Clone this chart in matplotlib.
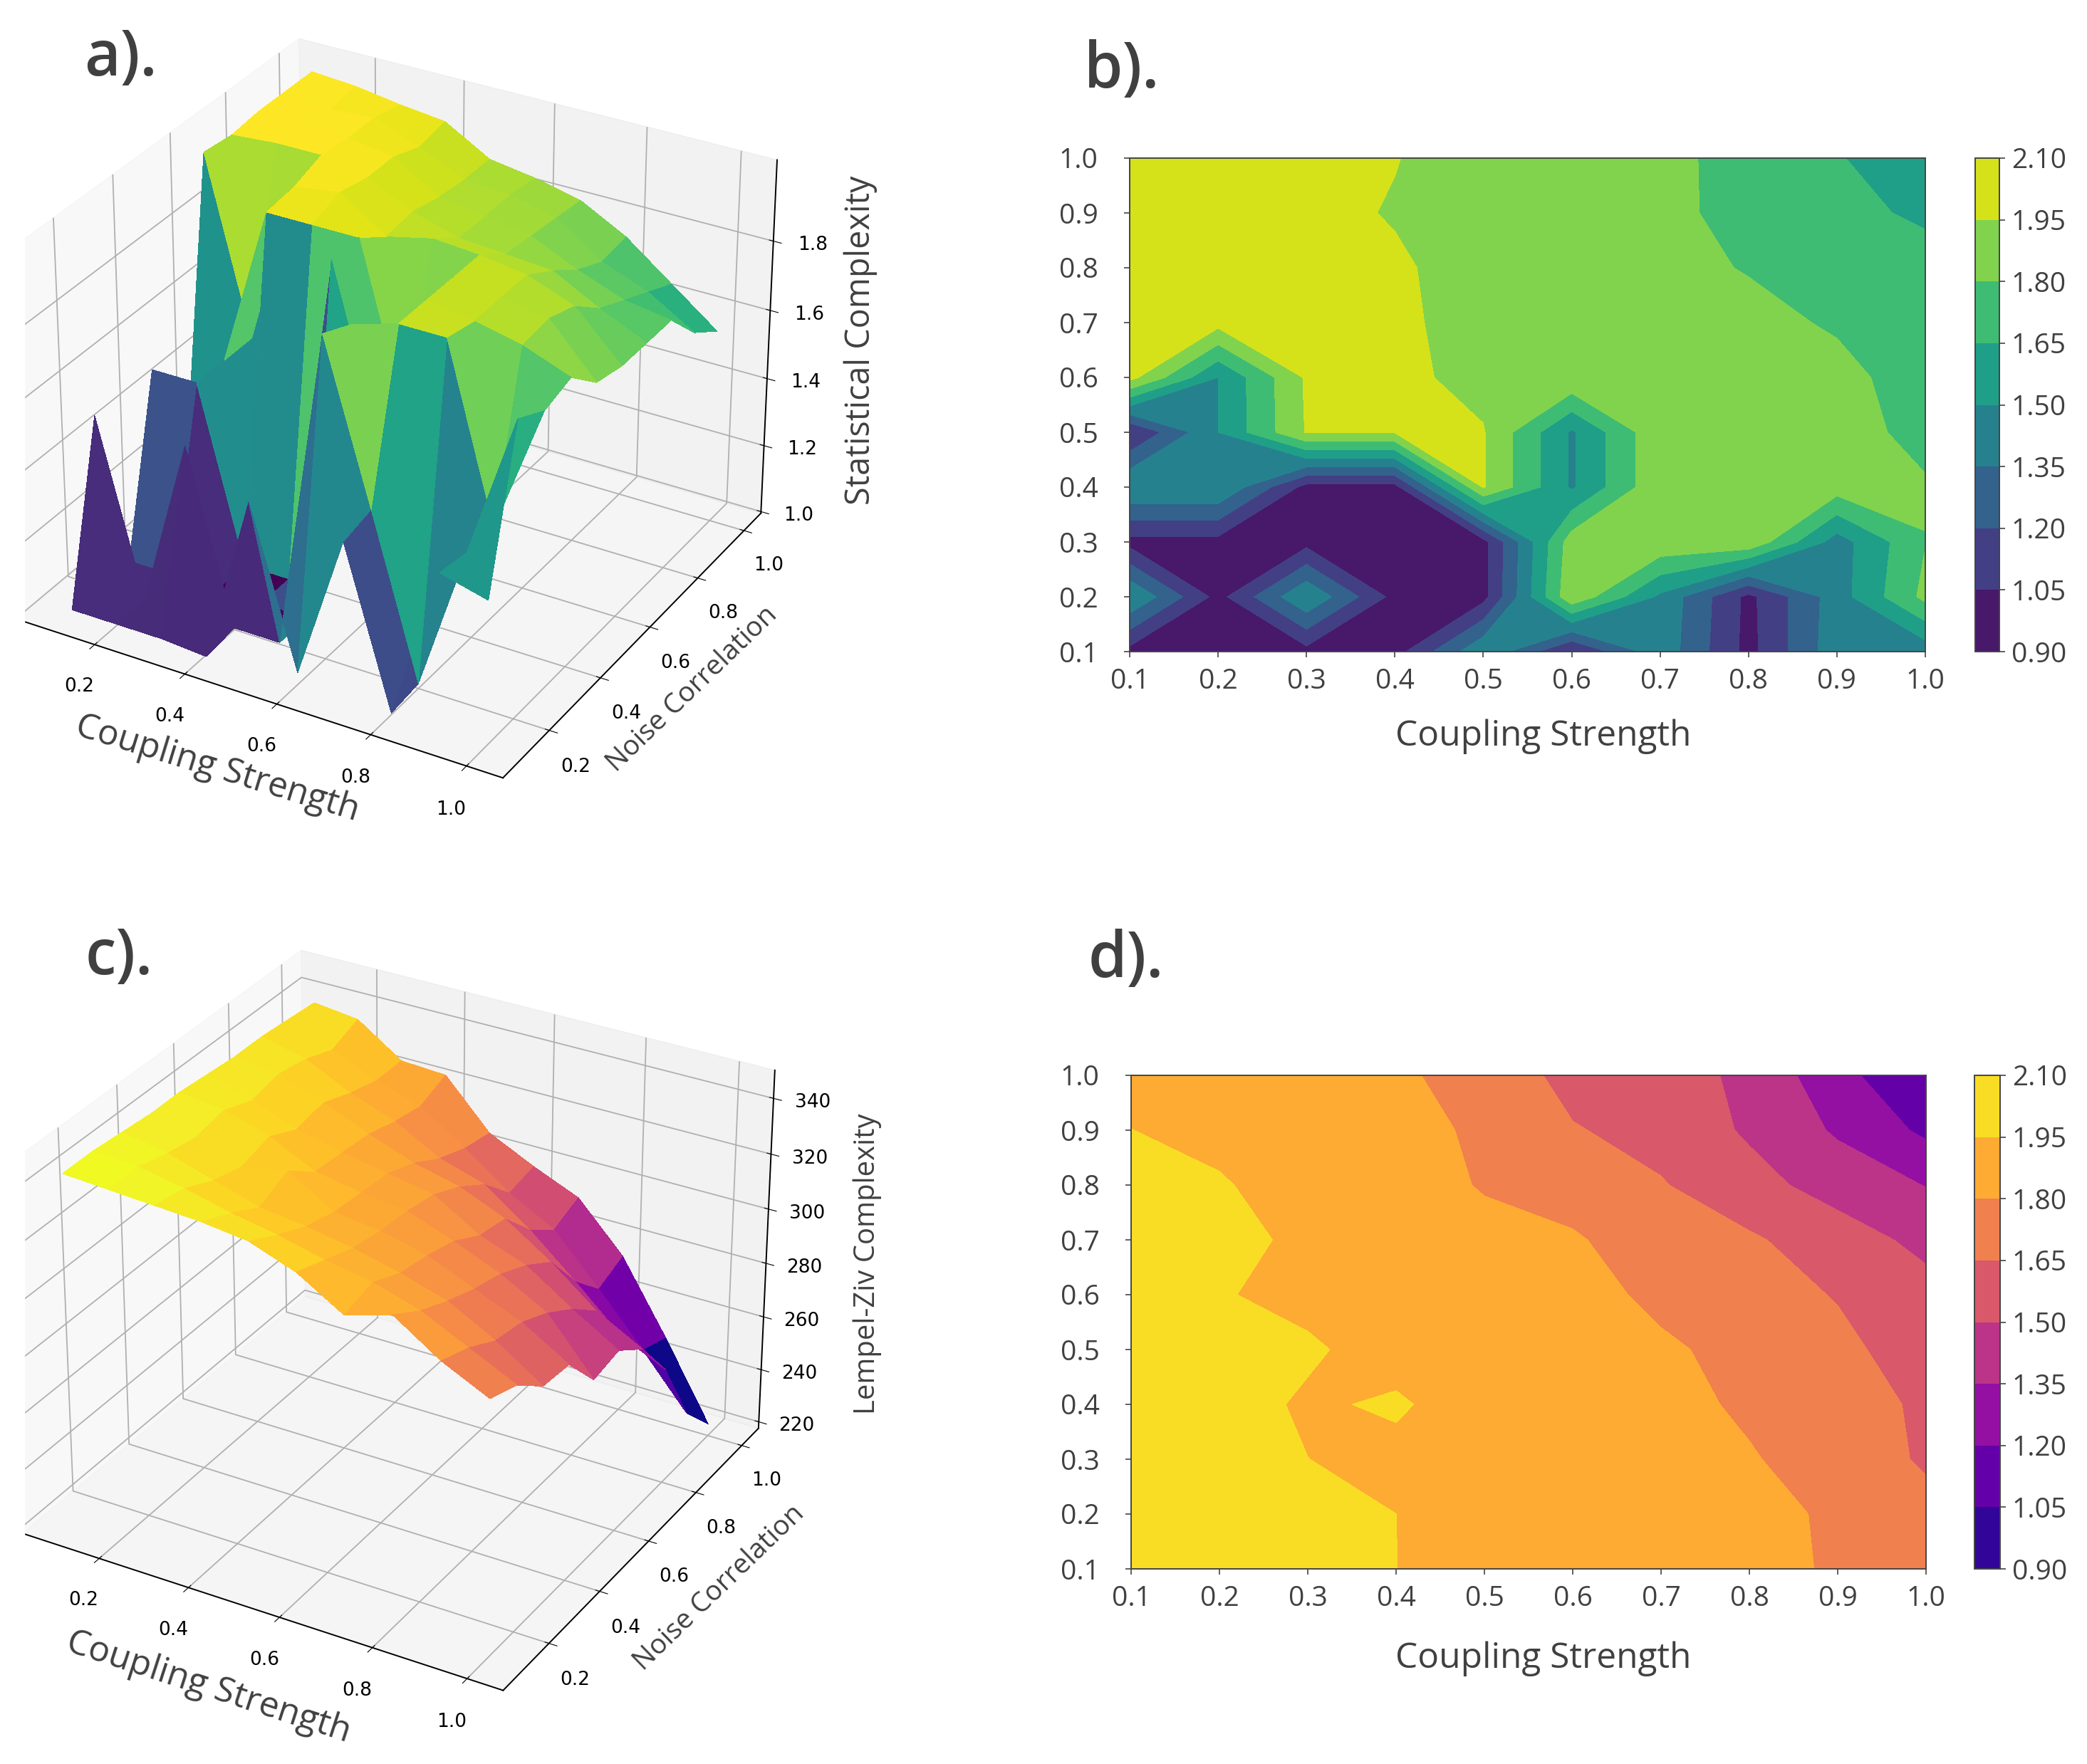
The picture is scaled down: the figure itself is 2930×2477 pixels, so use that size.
import numpy as np
import matplotlib
matplotlib.use("Agg")
import matplotlib.pyplot as plt
from matplotlib.patches import Rectangle

W, H = 2930, 2477

plt.rcParams["font.family"] = ["Open Sans", "DejaVu Sans"]
plt.rcParams["axes.linewidth"] = 1.4
plt.rcParams["grid.linewidth"] = 1.3

TEXT = "#404040"
SPINE = "#444444"

coupling = [0.1, 0.2, 0.3, 0.4, 0.5, 0.6, 0.7, 0.8, 0.9, 1.0]
noise = [0.1, 0.2, 0.3, 0.4, 0.5, 0.6, 0.7, 0.8, 0.9, 1.0]

# rows go from noise 0.1 up to noise 1.0
statistical = [
    [1.00, 1.00, 1.00, 0.99, 1.48, 1.03, 1.45, 1.00, 1.445, 1.41],
    [1.50, 1.00, 1.49, 1.00, 1.00, 1.92, 1.47, 1.01, 1.43, 1.84],
    [1.00, 1.00, 1.00, 1.00, 1.00, 1.88, 1.92, 1.92, 1.43, 1.795],
    [1.50, 1.50, 1.00, 1.00, 1.96, 1.48, 1.92, 1.90, 1.87, 1.82],
    [1.04, 1.50, 1.96, 1.96, 1.96, 1.48, 1.92, 1.90, 1.88, 1.74],
    [2.00, 1.50, 1.97, 1.99, 1.90, 1.93, 1.92, 1.90, 1.85, 1.72],
    [1.99, 2.00, 2.00, 1.97, 1.91, 1.87, 1.86, 1.85, 1.78, 1.72],
    [2.00, 2.00, 1.99, 1.97, 1.89, 1.87, 1.85, 1.79, 1.74, 1.72],
    [2.00, 1.98, 1.99, 1.94, 1.88, 1.87, 1.84, 1.75, 1.70, 1.62],
    [2.00, 1.99, 1.97, 1.955, 1.88, 1.86, 1.83, 1.76, 1.66, 1.56],
]

lempel_ziv = [
    [345, 344, 343, 342, 340, 334, 324, 329, 318, 310],
    [345, 344, 341, 337, 334, 330, 327, 322, 314, 306],
    [344, 341, 336, 331, 329, 326, 322, 317, 308, 297],
    [343, 339, 333, 336, 326, 324, 320, 313, 306, 296],
    [343, 341, 336, 328, 325, 323, 317, 310, 301, 282],
    [342, 337, 331, 327, 324, 321, 311, 305, 294, 284],
    [341, 339, 333, 326, 320, 316, 309, 298, 285, 276],
    [341, 337, 329, 323, 314, 309, 297, 283, 268, 260],
    [340, 333, 326, 321, 310, 298, 289, 272, 254, 235],
    [339, 337, 326, 325, 308, 300, 293, 276, 250, 222],
]

lempel_ziv_norm = [
    [2.02, 2.02, 2.00, 1.9502, 1.93, 1.91, 1.89, 1.83, 1.789, 1.72],
    [2.02, 2.02, 1.99, 1.9502, 1.92, 1.90, 1.88, 1.84, 1.78, 1.70],
    [2.00, 1.99, 1.951, 1.91, 1.90, 1.88, 1.85, 1.81, 1.74, 1.63],
    [2.00, 2.01, 1.93, 1.97, 1.87, 1.87, 1.84, 1.78, 1.73, 1.62],
    [2.02, 2.01, 1.97, 1.89, 1.88, 1.87, 1.82, 1.76, 1.69, 1.57],
    [2.00, 1.96, 1.91, 1.89, 1.87, 1.85, 1.77, 1.72, 1.64, 1.55],
    [1.99, 1.98, 1.93, 1.88, 1.84, 1.81, 1.75, 1.67, 1.57, 1.46],
    [1.97, 1.96, 1.90, 1.86, 1.79, 1.76, 1.66, 1.55, 1.44, 1.345],
    [1.951, 1.92, 1.88, 1.84, 1.78, 1.66, 1.60, 1.48, 1.33, 1.17],
    [1.92, 1.90, 1.86, 1.82, 1.75, 1.60, 1.56, 1.47, 1.246, 1.07],
]

levels = [0.90, 1.05, 1.20, 1.35, 1.50, 1.65, 1.80, 1.95, 2.10]
ticks_3d = [0.2, 0.4, 0.6, 0.8, 1.0]
ticks_sc = [1.0, 1.2, 1.4, 1.6, 1.8]
ticks_lz = [220, 240, 260, 280, 300, 320, 340]


def rect(left, top, right, bottom):
    """Pixel box (y from the top of the picture) to figure coordinates."""
    return [left / W, 1 - bottom / H, (right - left) / W, (bottom - top) / H]


def label(x, y, s, size, **kw):
    kw.setdefault("ha", "center")
    kw.setdefault("va", "center")
    fig.text(x / W, 1 - y / H, s, fontsize=size, color=TEXT, **kw)


def surface(box, values, cmap, zlim, zticks, aspect_z):
    ax = fig.add_axes(rect(*box), projection="3d")
    xx, yy = np.meshgrid(coupling, noise)
    ax.plot_surface(xx, yy, np.array(values, float), cmap=cmap, linewidth=0,
                    antialiased=False)
    ax.view_init(elev=30, azim=-60)
    ax.set_box_aspect((4, 4, aspect_z))
    ax.set_xlim(0.025, 1.075, view_margin=0)
    ax.set_ylim(0.025, 1.075, view_margin=0)
    ax.set_zlim(*zlim, view_margin=0)
    ax.set_xticks(ticks_3d)
    ax.set_yticks(ticks_3d)
    ax.set_zticks(zticks)
    ax.tick_params(labelsize=19, pad=16)
    for t in ax.get_xticklabels() + ax.get_yticklabels() + ax.get_zticklabels():
        t.set_family("DejaVu Sans")
    ax.patch.set_alpha(0)
    return ax


def contour(box, cbox, values, cmap):
    ax = fig.add_axes(rect(*box))
    cf = ax.contourf(coupling, noise, values, levels=levels, cmap=cmap)
    ax.set_xticks(coupling)
    ax.set_yticks(noise)
    ax.tick_params(labelsize=28, labelcolor=TEXT, length=6, width=1.2, color=SPINE)
    ax.tick_params(axis="x", pad=10.5)
    ax.tick_params(axis="y", pad=26)
    for s in ax.spines.values():
        s.set_color(SPINE)
    cax = fig.add_axes(rect(*cbox))
    cb = fig.colorbar(cf, cax=cax, ticks=levels, format="%.2f")
    cb.ax.tick_params(labelsize=28, labelcolor=TEXT, length=6, width=1.2, pad=6, color=SPINE)
    cb.outline.set_edgecolor(SPINE)
    return ax


fig = plt.figure(figsize=(W / 100, H / 100), dpi=100)

surface((-66, -41, 1145, 1170), statistical, "viridis", (0.995, 2.03), ticks_sc, 2.97)
surface((-61, 1243, 1144, 2448), lempel_ziv, "plasma", (217.5, 350), ticks_lz, 3.04)

contour((1586, 222, 2703, 915), (2773, 222, 2807, 915), statistical, "viridis")
contour((1588, 1510, 2704, 2203), (2772, 1510, 2808, 2203), lempel_ziv_norm, "plasma")

# the reference is cropped on the left, through the 3D panes
fig.add_artist(Rectangle((0, 0), 34 / W, 1, transform=fig.transFigure,
                         color="white", zorder=5))

label(2167, 1034, "Coupling Strength", 35.7)
label(2167, 2329, "Coupling Strength", 35.7)

label(305, 1080, "Coupling Strength", 35.6, rotation=-17, rotation_mode="anchor")
label(972, 968, "Noise Correlation", 28, rotation=44, rotation_mode="anchor")
label(1208, 478, "Statistical Complexity", 33.6, rotation=90)
label(293, 2370, "Coupling Strength", 35.8, rotation=-18, rotation_mode="anchor")
label(1010, 2230, "Noise Correlation", 28, rotation=44, rotation_mode="anchor")
label(1218, 1775, "Lempel-Ziv Complexity", 28.8, rotation=90)

for x, y, s in [(118, 106, "a)."), (1522, 123, "b)."), (120, 1368, "c)."), (1528, 1372, "d).")]:
    label(x, y, s, 63, ha="left", va="baseline", weight="semibold")

fig.savefig("out.png", dpi=100)
